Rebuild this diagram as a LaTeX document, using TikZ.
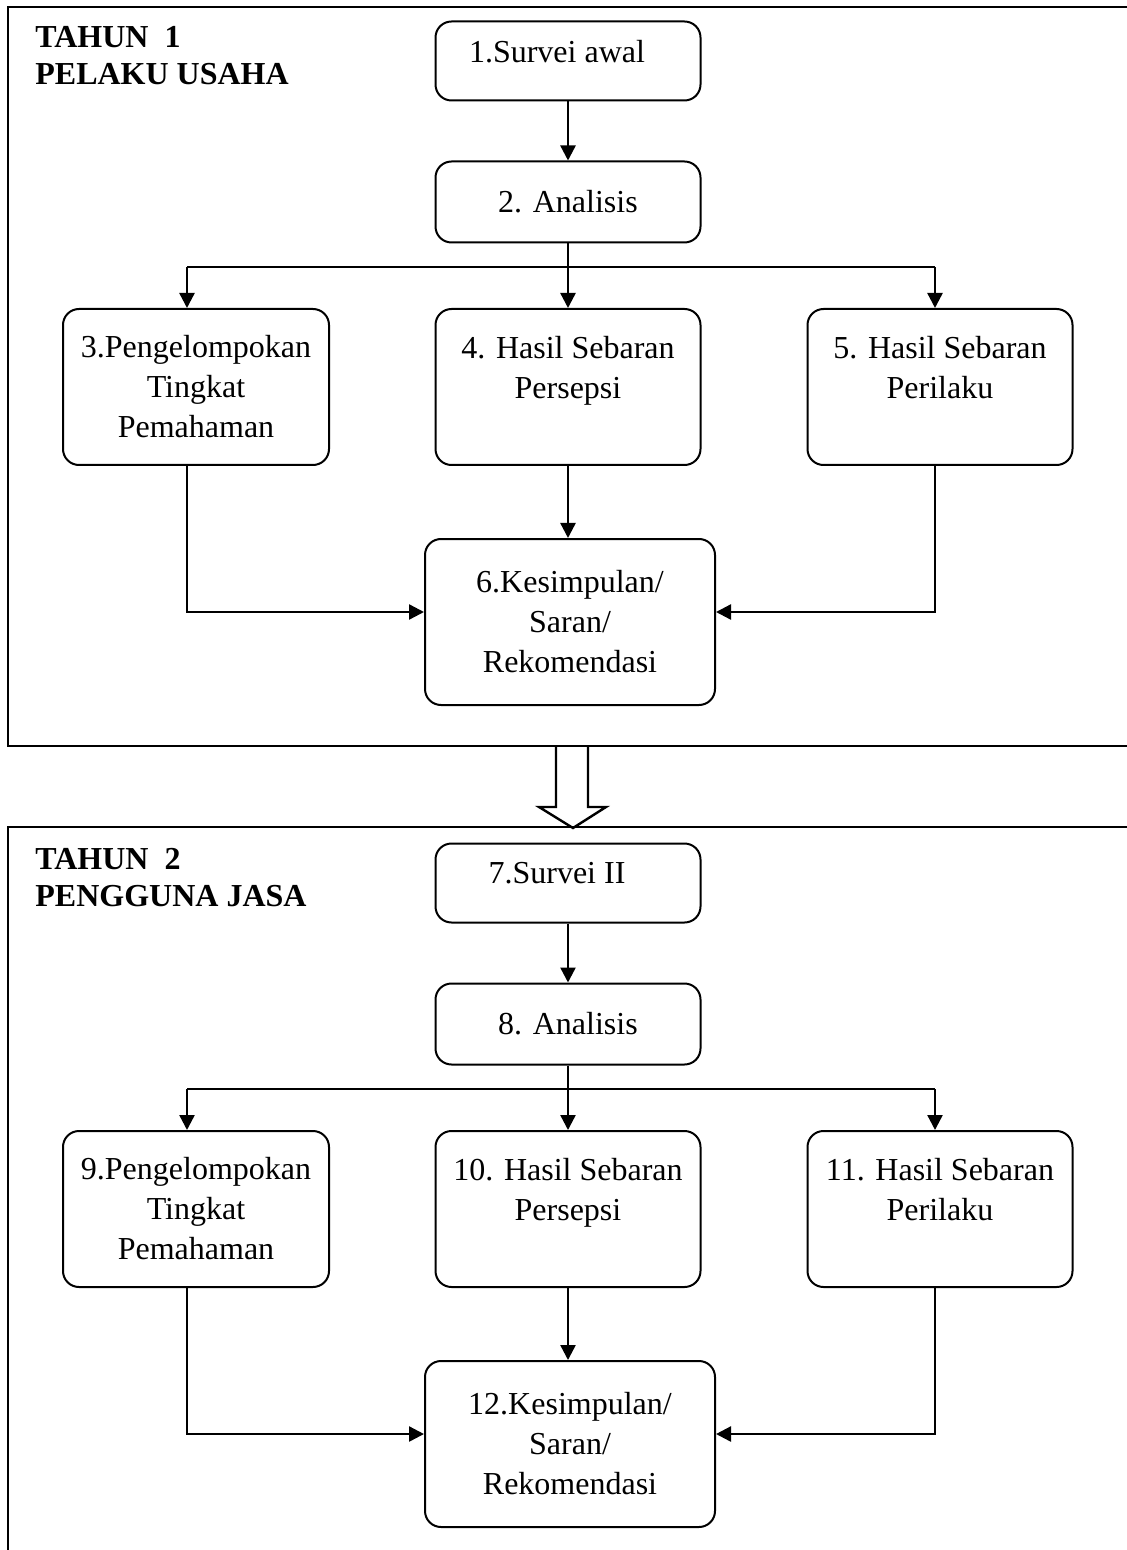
\documentclass[tikz,border=0pt]{standalone}
\usepackage{fontspec}
\setmainfont{Liberation Serif}
\usetikzlibrary{arrows.meta}
\tikzstyle{arrow} = [line width=1.2pt,-{Triangle[length=7.5pt,width=7.5pt]}]
\tikzstyle{line} = [line width=1.2pt]

\begin{document}
\begin{tikzpicture}
    [
        x=0.5pt, y=-0.5pt,
        box/.style={rectangle, rounded corners=8pt, draw=black, line width=1pt, align=center, inner sep=0pt, minimum width=132.5pt, font=\fontsize{16}{20}\selectfont},
        bigbox/.style={box, minimum width=145pt, minimum height=83pt},
        title/.style={anchor=north west, align=left, inner sep=0pt, font=\fontsize{16}{18.5}\selectfont\bfseries},
    ]
    \useasboundingbox (0,0) rectangle (1127,1550);
    \clip (0,0) rectangle (1127,1550);

    % tahun 1
    \draw[line] (8,7) rectangle (1140,746);
    \node[title] (t1) at (35,26) {TAHUN~~1\\PELAKU USAHA};

    \node[box, minimum height=39.5pt] (a1) at (568,61) {1.Survei awal\hspace*{11pt}\\[-10pt]\mbox{}};
    \node[box, minimum height=40.5pt] (a2) at (568,202) {2. Analisis};
    \node[box, minimum width=133pt, minimum height=78pt] (a3) at (196,387) {3.Pengelompokan\\Tingkat\\Pemahaman};
    \node[box, minimum height=78pt] (a4) at (568,387) {4. Hasil Sebaran\\Persepsi\\\mbox{}};
    \node[box, minimum height=78pt] (a5) at (940,387) {5. Hasil Sebaran\\Perilaku\\\mbox{}};
    \node[bigbox] (a6) at (570,622) {6.Kesimpulan/\\Saran/\\Rekomendasi};

    \coordinate (ja) at (568,267);
    \coordinate (jl) at (187,267);
    \coordinate (jr) at (935,267);

    \draw[arrow] (a1) -- (a2);
    \draw[line] (a2) -- (ja);
    \draw[line] (jl) -- (jr);
    \draw[arrow] (jl) -- (jl |- a3.north);
    \draw[arrow] (ja) -- (a4);
    \draw[arrow] (jr) -- (jr |- a5.north);
    \draw[arrow] (a4) -- (a4 |- a6.north);
    \draw[arrow] (jl |- a3.south) |- ([yshift=5pt]a6.west);
    \draw[arrow] (jr |- a5.south) |- ([yshift=5pt]a6.east);

    % big arrow between the years
    \draw[line, line join=miter] (556,746) -- (556,807) -- (539,807) -- (573,828)
        -- (606,807) -- (588,807) -- (588,746);

    % tahun 2
    \draw[line] (8,827) rectangle (1140,1600);
    \begin{scope}[yshift=-411pt]
    \node[title] (t2) at (35,26) {TAHUN~~2\\PENGGUNA JASA};

    \node[box, minimum height=39.5pt] (b1) at (568,61) {7.Survei II\hspace*{11pt}\\[-10pt]\mbox{}};
    \node[box, minimum height=40.5pt] (b2) at (568,202) {8. Analisis};
    \node[box, minimum width=133pt, minimum height=78pt] (b3) at (196,387) {9.Pengelompokan\\Tingkat\\Pemahaman};
    \node[box, minimum height=78pt] (b4) at (568,387) {10. Hasil Sebaran\\Persepsi\\\mbox{}};
    \node[box, minimum height=78pt] (b5) at (940,387) {11. Hasil Sebaran\\Perilaku\\\mbox{}};
    \node[bigbox] (b6) at (570,622) {12.Kesimpulan/\\Saran/\\Rekomendasi};

    \coordinate (ka) at (568,267);
    \coordinate (kl) at (187,267);
    \coordinate (kr) at (935,267);

    \draw[arrow] (b1) -- (b2);
    \draw[line] (b2) -- (ka);
    \draw[line] (kl) -- (kr);
    \draw[arrow] (kl) -- (kl |- b3.north);
    \draw[arrow] (ka) -- (b4);
    \draw[arrow] (kr) -- (kr |- b5.north);
    \draw[arrow] (b4) -- (b4 |- b6.north);
    \draw[arrow] (kl |- b3.south) |- ([yshift=5pt]b6.west);
    \draw[arrow] (kr |- b5.south) |- ([yshift=5pt]b6.east);
    \end{scope}
\end{tikzpicture}
\end{document}
